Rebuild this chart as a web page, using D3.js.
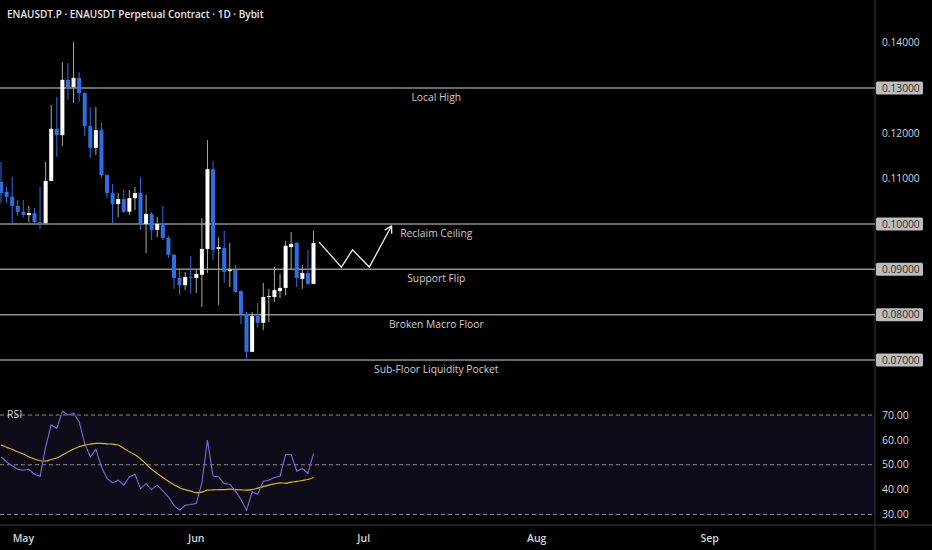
<!DOCTYPE html>
<html>
<head>
<meta charset="utf-8">
<script src="https://cdn.jsdelivr.net/npm/d3@7"></script>
<style>
  html, body { margin: 0; padding: 0; background: #000; }
  svg { display: block; font-family: "Open Sans", "Liberation Sans", sans-serif; }
</style>
</head>
<body>
<div class="container"></div>
<script>
// ENAUSDT.P daily candles, Apr 27 -> Jun 22
var startDay = Date.UTC(2025, 3, 27);

var opens  = [0.1093,0.1071,0.1060,0.1040,0.1027,0.1020,0.1024,0.1004,0.1002,0.1095,
              0.1210,0.1196,0.1318,0.1302,0.1322,0.1289,0.1216,0.1168,0.1207,0.1108,
              0.1068,0.1044,0.1055,0.1027,0.1057,0.1068,0.1000,0.1022,0.0987,0.1000,
              0.0969,0.0932,0.0881,0.0865,0.0883,0.0881,0.0888,0.0945,0.1121,0.0945,
              0.0947,0.0896,0.0899,0.0852,0.0802,0.0718,0.0797,0.0782,0.0839,0.0839,
              0.0852,0.0859,0.0949,0.0958,0.0879,0.0892,0.0868];
var highs  = [0.1137,0.1082,0.1104,0.1053,0.1053,0.1040,0.1035,0.1082,0.1137,0.1263,
              0.1280,0.1357,0.1355,0.1402,0.1335,0.1290,0.1258,0.1258,0.1223,0.1109,
              0.1088,0.1068,0.1075,0.1075,0.1082,0.1104,0.1064,0.1027,0.1015,0.1040,
              0.0974,0.0934,0.0899,0.0894,0.0929,0.0899,0.1013,0.1185,0.1139,0.0971,
              0.0985,0.0958,0.0910,0.0854,0.0806,0.0806,0.0826,0.0870,0.0857,0.0905,
              0.0890,0.0963,0.0982,0.0960,0.0910,0.0943,0.0985];
var lows   = [0.1046,0.1046,0.0998,0.1018,0.1015,0.1004,0.1002,0.0989,0.1000,0.1094,
              0.1148,0.1172,0.1274,0.1267,0.1269,0.1194,0.1146,0.1152,0.1102,0.1057,
              0.1002,0.1015,0.1024,0.1020,0.1031,0.0987,0.0936,0.0965,0.0971,0.0965,
              0.0925,0.0857,0.0843,0.0854,0.0846,0.0848,0.0817,0.0892,0.0921,0.0821,
              0.0870,0.0861,0.0848,0.0779,0.0700,0.0717,0.0773,0.0766,0.0784,0.0828,
              0.0837,0.0843,0.0899,0.0861,0.0857,0.0866,0.0867];
var closes = [0.1068,0.1060,0.1040,0.1027,0.1020,0.1024,0.1004,0.1002,0.1095,0.1210,
              0.1196,0.1318,0.1302,0.1322,0.1289,0.1216,0.1168,0.1207,0.1108,0.1068,
              0.1044,0.1055,0.1027,0.1057,0.1068,0.1002,0.1022,0.0987,0.1000,0.0969,
              0.0932,0.0881,0.0865,0.0883,0.0881,0.0890,0.0945,0.1121,0.0943,0.0949,
              0.0894,0.0899,0.0850,0.0802,0.0718,0.0797,0.0782,0.0839,0.0841,0.0854,
              0.0859,0.0952,0.0956,0.0881,0.0892,0.0868,0.0958];

var rsiValues = [53.2,51.2,49.6,48.2,47.8,48.2,46.2,45.4,57.2,66.0,
                 64.6,71.6,70.0,70.7,67.3,58.6,53.2,56.2,49.2,44.5,
                 42.7,43.8,41.8,45.1,46.2,40.4,42.4,40.0,41.8,39.5,
                 37.1,33.7,31.7,33.7,34.0,34.4,42.8,59.9,45.5,45.1,
                 42.4,42.2,39.5,36.0,31.7,39.1,38.1,43.4,43.8,44.9,
                 45.4,54.1,54.1,47.4,48.5,46.5,54.5];
var rsiMa = [57.9,57.0,56.2,55.2,54.3,53.2,52.3,51.6,51.5,52.1,
             52.7,53.9,55.1,56.3,57.2,57.9,58.3,58.6,58.6,58.4,
             58.3,57.9,56.6,55.2,54.0,52.4,50.2,48.2,46.5,44.9,
             43.4,42.0,40.8,40.0,39.4,38.8,39.0,39.8,39.9,40.0,
             40.0,40.2,40.0,39.9,39.8,40.0,40.6,41.2,41.8,42.3,
             42.7,42.6,43.0,43.3,43.7,44.1,44.9];

var levelPrices = [0.13, 0.10, 0.09, 0.08, 0.07];
var levelLabels = ["Local High", "Reclaim Ceiling", "Support Flip", "Broken Macro Floor", "Sub-Floor Liquidity Pocket"];
var priceTicks = [0.14, 0.13, 0.12, 0.11, 0.10, 0.09, 0.08, 0.07];
var rsiTicks = [70, 60, 50, 40, 30];
var monthTicks = ["May", "Jun", "Jul", "Aug", "Sep"];
var monthDates = [Date.UTC(2025,4,1), Date.UTC(2025,5,1), Date.UTC(2025,6,1), Date.UTC(2025,7,1), Date.UTC(2025,8,1)];

// sketched path after last candle
var projDates  = [Date.UTC(2025,5,23), Date.UTC(2025,5,27), Date.UTC(2025,5,29), Date.UTC(2025,6,2), Date.UTC(2025,6,6)];
var projPrices = [0.0960, 0.0905, 0.0943, 0.0905, 0.0996];

var width = 932;
var height = 550;
var axisX = 875;

var candles = opens.map(function (o, i) {
  return { date: new Date(startDay + i * 864e5), o: o, h: highs[i], l: lows[i], c: closes[i], rsi: rsiValues[i], ma: rsiMa[i] };
});

var x = d3.scaleUtc()
  .domain([new Date(startDay), new Date(monthDates[4])])
  .range([1, 709.7]);
var y = d3.scaleLinear().domain([0.07, 0.13]).range([360, 88]);
var yr = d3.scaleLinear().domain([30, 70]).range([514.5, 415]);

var svg = d3.select(".container").append("svg")
  .attr("width", width)
  .attr("height", height);

svg.append("rect").attr("width", width).attr("height", height).attr("fill", "#000");

// title
svg.append("text")
  .attr("x", 7).attr("y", 18)
  .attr("fill", "#e8e8e8")
  .attr("font-size", 10)
  .attr("font-weight", 600)
  .text("ENAUSDT.P · ENAUSDT Perpetual Contract · 1D · Bybit");

// RSI pane background + bands
svg.append("rect")
  .attr("x", 0).attr("y", yr(70))
  .attr("width", axisX).attr("height", yr(30) - yr(70))
  .attr("fill", "#0f0c1a");

svg.selectAll(".band").data([70, 50, 30]).enter().append("line")
  .attr("x1", 0).attr("x2", axisX)
  .attr("y1", function (d) { return yr(d); })
  .attr("y2", function (d) { return yr(d); })
  .attr("stroke", "#8a8a8a")
  .attr("stroke-width", 1)
  .attr("stroke-dasharray", "4,3");

// separators
svg.append("line").attr("x1", axisX).attr("x2", axisX).attr("y1", 0).attr("y2", height)
  .attr("stroke", "#3a3a3a").attr("stroke-width", 1);
svg.append("line").attr("x1", 0).attr("x2", width).attr("y1", 525).attr("y2", 525)
  .attr("stroke", "#2a2a2a").attr("stroke-width", 1.5);

// level lines
svg.selectAll(".level").data(levelPrices).enter().append("line")
  .attr("x1", 0).attr("x2", axisX)
  .attr("y1", function (d) { return y(d); })
  .attr("y2", function (d) { return y(d); })
  .attr("stroke", "#8f8f8f")
  .attr("stroke-width", 1.5);

var labelX = x(new Date(Date.UTC(2025, 6, 14)));
svg.selectAll(".levelLabel").data(levelPrices).enter().append("text")
  .attr("x", labelX)
  .attr("y", function (d) { return y(d) + 13; })
  .attr("text-anchor", "middle")
  .attr("fill", "#cccccc")
  .attr("font-size", 10.3)
  .text(function (d, i) { return levelLabels[i]; });

// candles
var upCol = "#ffffff", downCol = "#2f6fe2";
var g = svg.append("g");
g.selectAll(".wick").data(candles).enter().append("line")
  .attr("x1", function (d) { return x(d.date); })
  .attr("x2", function (d) { return x(d.date); })
  .attr("y1", function (d) { return y(d.h); })
  .attr("y2", function (d) { return y(d.l); })
  .attr("stroke", function (d) { return d.c >= d.o ? "#a8a8a8" : downCol; })
  .attr("stroke-width", 1);

g.selectAll(".body").data(candles).enter().append("rect")
  .attr("x", function (d) { return x(d.date) - 2; })
  .attr("width", 4)
  .attr("y", function (d) { return y(Math.max(d.o, d.c)); })
  .attr("height", function (d) { return Math.max(1, Math.abs(y(d.o) - y(d.c))); })
  .attr("fill", function (d) { return d.c >= d.o ? upCol : downCol; });

// projection sketch
var proj = projDates.map(function (t, i) { return [x(new Date(t)), y(projPrices[i])]; });
svg.append("path")
  .attr("d", d3.line()(proj))
  .attr("fill", "none")
  .attr("stroke", "#f0f0f0")
  .attr("stroke-width", 1.3);
var end = proj[proj.length - 1], prev = proj[proj.length - 2];
var ang = Math.atan2(end[1] - prev[1], end[0] - prev[0]);
[-0.5, 0.5].forEach(function (da) {
  svg.append("line")
    .attr("x1", end[0]).attr("y1", end[1])
    .attr("x2", end[0] - 8 * Math.cos(ang + da))
    .attr("y2", end[1] - 8 * Math.sin(ang + da))
    .attr("stroke", "#f0f0f0").attr("stroke-width", 1.3);
});

// RSI lines
var rsiLine = d3.line().x(function (d) { return x(d.date); }).y(function (d) { return yr(d.rsi); });
var maLine = d3.line().x(function (d) { return x(d.date); }).y(function (d) { return yr(d.ma); }).curve(d3.curveMonotoneX);
svg.append("path").attr("d", maLine(candles)).attr("fill", "none")
  .attr("stroke", "#d8b640").attr("stroke-width", 1.1);
svg.append("path").attr("d", rsiLine(candles)).attr("fill", "none")
  .attr("stroke", "#7b6bd6").attr("stroke-width", 1.1);

svg.append("text").attr("x", 7).attr("y", 418)
  .attr("fill", "#d1d4dc").attr("font-size", 10.5).text("RSI");

// price axis
var levelSet = levelPrices.map(function (p) { return p.toFixed(2); });
var pt = svg.selectAll(".ptick").data(priceTicks).enter().append("g")
  .attr("transform", function (d) { return "translate(0," + y(d) + ")"; });
pt.filter(function (d) { return levelSet.indexOf(d.toFixed(2)) >= 0; })
  .append("rect")
  .attr("x", axisX + 1).attr("y", -6.5)
  .attr("width", 47).attr("height", 13).attr("rx", 1.5)
  .attr("fill", "#bdbdbd");
pt.append("text")
  .attr("x", 882).attr("dy", "0.35em")
  .attr("font-size", 10.2)
  .attr("fill", function (d) { return levelSet.indexOf(d.toFixed(2)) >= 0 ? "#2a2a2a" : "#d1d4dc"; })
  .text(function (d) { return d.toFixed(5); });

// rsi axis
svg.selectAll(".rtick").data(rsiTicks).enter().append("text")
  .attr("x", 882).attr("y", function (d) { return yr(d); }).attr("dy", "0.35em")
  .attr("font-size", 10.5).attr("fill", "#d1d4dc")
  .text(function (d) { return d.toFixed(2); });

// time axis
svg.selectAll(".mtick").data(monthTicks).enter().append("text")
  .attr("x", function (d, i) { return x(new Date(monthDates[i])); })
  .attr("y", 542)
  .attr("text-anchor", "middle")
  .attr("font-size", 10.5).attr("font-weight", 600)
  .attr("fill", "#d1d4dc")
  .text(function (d) { return d; });
</script>
</body>
</html>
